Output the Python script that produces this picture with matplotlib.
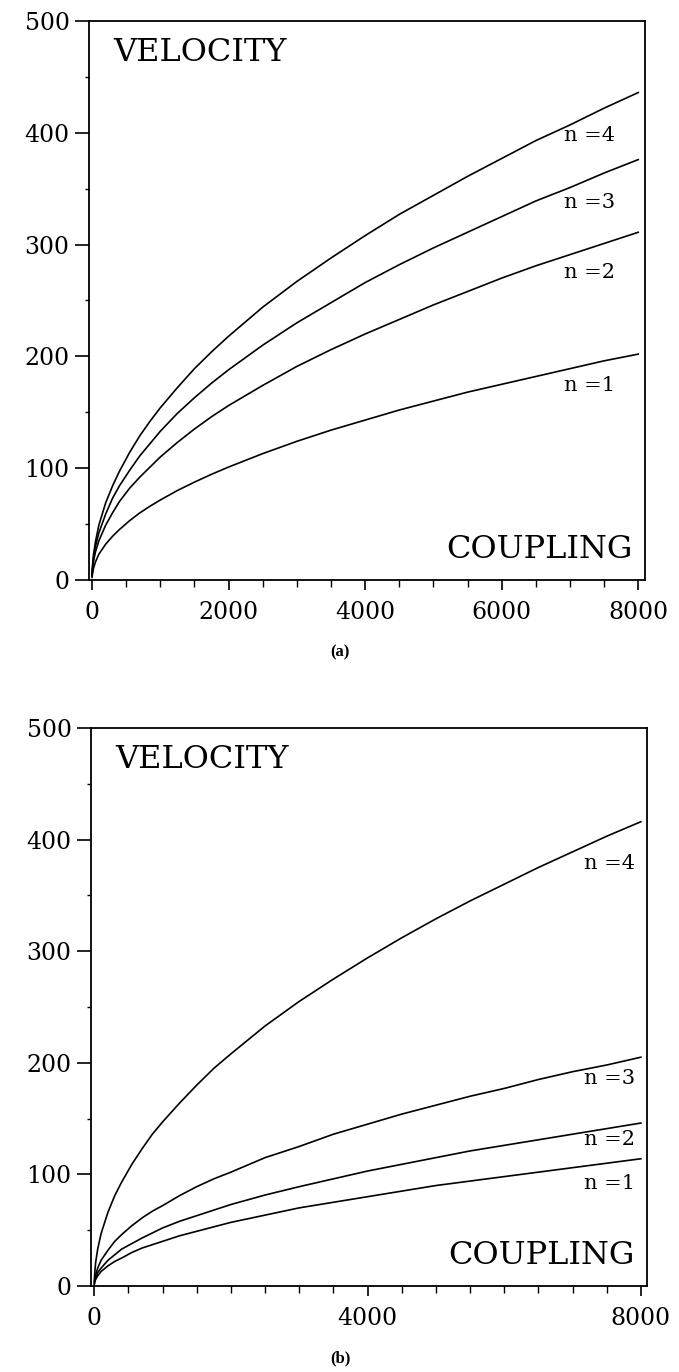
import matplotlib
matplotlib.use('Agg')
import matplotlib.pyplot as plt
from matplotlib.ticker import MultipleLocator

plt.rcParams['font.family'] = 'DejaVu Serif'

coupling = [1, 5, 20, 50, 100, 200, 300, 400, 550, 700, 850, 1000, 1250, 1500, 1750,
            2000, 2500, 3000, 3500, 4000, 4500, 5000, 5500, 6000, 6500, 7000, 7500, 8000]

# panel (a) velocities
vel_a_n1 = [2.3, 5, 10, 16, 23, 32, 39, 45, 53, 60, 66, 71.5, 80, 87.5, 94.5,
            101, 113, 124, 134, 143, 152, 160, 168, 175, 182, 189, 196, 202]
vel_a_n2 = [3.5, 8, 16, 25, 35, 49, 60, 70, 82, 92, 101, 110, 123, 135, 146,
            156, 174, 191, 206, 220, 233, 246, 258, 270, 281, 291, 301, 311]
vel_a_n3 = [4, 9, 19, 30, 42, 59, 73, 84, 98, 111, 122, 133, 149, 163, 176,
            188, 210, 230, 248, 266, 282, 297, 311, 325, 339, 351, 364, 376]
vel_a_n4 = [5, 11, 22, 34, 49, 69, 84, 97, 114, 129, 142, 154, 172, 189, 204,
            218, 244, 267, 288, 308, 327, 344, 361, 377, 393, 407, 422, 436]

# panel (b) velocities
vel_b_n1 = [1.5, 3, 6, 9, 13, 18, 22, 25, 30, 34, 37, 40, 45, 49, 53,
            57, 63.5, 70, 75, 80, 85, 90, 94, 98, 102, 106, 110, 114]
vel_b_n2 = [2, 4, 7, 12, 16, 23, 28, 33, 38, 43, 47.5, 52, 58, 63, 68,
            73, 81.5, 89, 96, 103, 109, 115, 121, 126, 131, 136, 141, 146]
vel_b_n3 = [3, 5, 10, 16, 23, 32, 40, 46, 54, 61, 67, 72, 81, 89, 96,
            102, 115, 125, 136, 145, 154, 162, 170, 177, 185, 192, 198, 205]
vel_b_n4 = [4.7, 10, 21, 33, 47, 66, 81, 93, 109, 123, 136, 147, 164, 180, 195,
            208, 233, 255, 275, 294, 312, 329, 345, 360, 375, 389, 403, 416]

labels = ['n =1', 'n =2', 'n =3', 'n =4']
label_y_a = [174, 275, 338, 398]
label_y_b = [92, 131, 186, 379]


def setup(ax, xlim, xmajor):
    ax.set_xlim(*xlim)
    ax.set_ylim(0, 500)
    ax.xaxis.set_major_locator(MultipleLocator(xmajor))
    ax.xaxis.set_minor_locator(MultipleLocator(500))
    ax.yaxis.set_major_locator(MultipleLocator(100))
    ax.yaxis.set_minor_locator(MultipleLocator(50))
    ax.tick_params(axis='y', which='major', direction='out', length=10, width=1.2,
                   labelsize=17, pad=4)
    ax.tick_params(axis='y', which='minor', direction='out', length=3, width=1.0)
    ax.tick_params(axis='x', which='major', direction='out', length=7, width=1.2,
                   labelsize=17, pad=8)
    ax.tick_params(axis='x', which='minor', direction='out', length=5, width=1.0)
    for s in ax.spines.values():
        s.set_linewidth(1.3)
    ax.text(0.043, 472, 'VELOCITY', fontsize=23, va='center', ha='left',
            transform=ax.get_yaxis_transform())
    ax.text(0.977, 27, 'COUPLING', fontsize=23, va='center', ha='right',
            transform=ax.get_yaxis_transform())


fig = plt.figure(figsize=(6.79, 13.72), dpi=100)
ax1 = fig.add_axes([0.1311, 0.5773, 0.8189, 0.4074])
ax2 = fig.add_axes([0.1340, 0.0627, 0.8189, 0.4067])

for v in [vel_a_n1, vel_a_n2, vel_a_n3, vel_a_n4]:
    ax1.plot(coupling, v, color='black', linewidth=1.2)
setup(ax1, (-44, 8100), 2000)
for lab, yv in zip(labels, label_y_a):
    ax1.text(7663, yv, lab, fontsize=15, ha='right', va='center')

for v in [vel_b_n1, vel_b_n2, vel_b_n3, vel_b_n4]:
    ax2.plot(coupling, v, color='black', linewidth=1.2)
setup(ax2, (-48, 8090), 4000)
for lab, yv in zip(labels, label_y_b):
    ax2.text(7912, yv, lab, fontsize=15, ha='right', va='center')

fig.text(0.5007, 0.5248, '(a)', fontsize=12, fontweight='bold', ha='center', va='center',
         family='Liberation Serif')
fig.text(0.5007, 0.0102, '(b)', fontsize=12, fontweight='bold', ha='center', va='center',
         family='Liberation Serif')

fig.savefig('out.png', dpi=100)
